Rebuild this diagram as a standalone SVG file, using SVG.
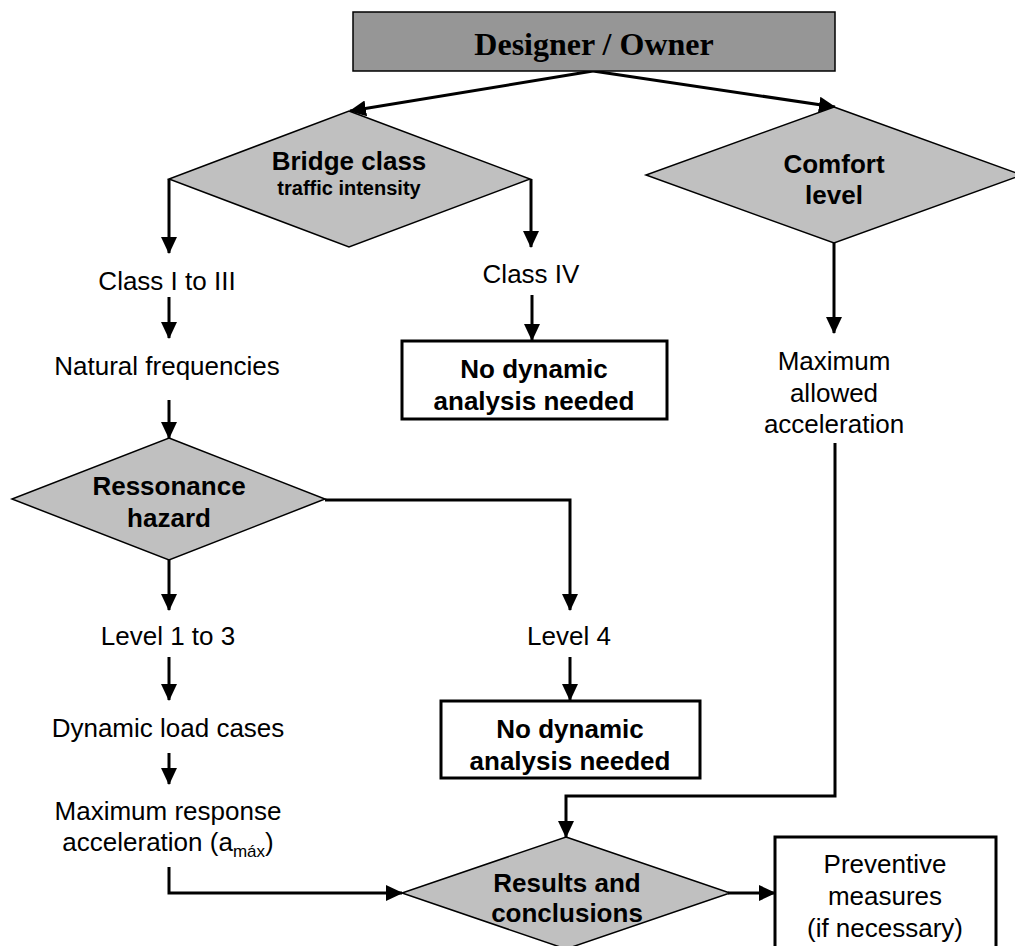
<svg xmlns="http://www.w3.org/2000/svg" width="1015" height="946" viewBox="0 0 1015 946">
<style>
.t{font-family:"Liberation Sans",Arial,sans-serif;font-size:26px;fill:#000;text-anchor:middle}
.b{font-weight:bold}
.dia{fill:#c0c0c0;stroke:#000;stroke-width:1.5}
.box{fill:#fff;stroke:#000;stroke-width:3}
.con{fill:none;stroke:#000;stroke-width:3;marker-end:url(#ah)}
</style>
<defs>
<marker id="ah" markerUnits="userSpaceOnUse" markerWidth="17" markerHeight="16" viewBox="0 0 17 16" refX="16" refY="8" orient="auto">
<path d="M0,0 L17,8 L0,16 z" fill="#000"/>
</marker>
</defs>
<rect width="1015" height="946" fill="#fff"/>
<g id="connectors">
<path class="con" d="M593,71 L350,111"/>
<path class="con" d="M593,71 L835,107"/>
<path class="con" d="M169,179 L169,253"/>
<path class="con" d="M531,179 L531,247"/>
<path class="con" d="M169,297 L169,338"/>
<path class="con" d="M169,400 L169,438"/>
<path class="con" d="M532,295 L532,340"/>
<path class="con" d="M834,243 L834,333"/>
<path class="con" d="M169,559 L169,610"/>
<path class="con" d="M325,500 L570,500 L570,610"/>
<path class="con" d="M169,657 L169,700"/>
<path class="con" d="M570,657 L570,700"/>
<path class="con" d="M169,753 L169,784"/>
<path class="con" d="M169,867 L169,893 L402,893"/>
<path class="con" d="M835,443 L835,796 L566,796 L566,837"/>
<path class="con" d="M728,893 L775,893"/>
</g>
<g id="designer">
<rect x="353" y="12" width="482" height="59" fill="#969696" stroke="#000" stroke-width="1.5"/>
<text x="594" y="55" style="font-family:'Liberation Serif','Times New Roman',serif;font-size:32px;font-weight:bold;text-anchor:middle">Designer / Owner</text>
</g>
<g id="bridge">
<polygon class="dia" points="349,111 530,179 349,247 169,179"/>
<text class="t b" x="349" y="170">Bridge class</text>
<text class="t b" x="349" y="195" style="font-size:20px">traffic intensity</text>
</g>
<g id="comfort">
<polygon class="dia" points="834,107 1022,175 834,243 646,175"/>
<text class="t b" x="834" y="173">Comfort</text>
<text class="t b" x="834" y="204">level</text>
</g>
<g id="class13"><text class="t" x="167" y="290">Class I to III</text></g>
<g id="class4"><text class="t" x="531" y="283">Class IV</text></g>
<g id="natfreq"><text class="t" x="167" y="375">Natural frequencies</text></g>
<g id="nodyn1">
<rect class="box" x="402" y="341" width="265" height="78"/>
<text class="t b" x="534" y="378">No dynamic</text>
<text class="t b" x="534" y="410">analysis needed</text>
</g>
<g id="maxallowed">
<text class="t" x="834" y="370">Maximum</text>
<text class="t" x="834" y="402">allowed</text>
<text class="t" x="834" y="433">acceleration</text>
</g>
<g id="ressonance">
<polygon class="dia" points="169,438 325,499 169,560 12,499"/>
<text class="t b" x="169" y="495">Ressonance</text>
<text class="t b" x="169" y="527">hazard</text>
</g>
<g id="level13"><text class="t" x="168" y="645">Level 1 to 3</text></g>
<g id="level4"><text class="t" x="569" y="645">Level 4</text></g>
<g id="dynload"><text class="t" x="168" y="737">Dynamic load cases</text></g>
<g id="nodyn2">
<rect class="box" x="441" y="701" width="259" height="77"/>
<text class="t b" x="570" y="738">No dynamic</text>
<text class="t b" x="570" y="770">analysis needed</text>
</g>
<g id="maxresp">
<text class="t" x="168" y="820">Maximum response</text>
<text class="t" x="168" y="851">acceleration (a<tspan dy="6" style="font-size:17px">máx</tspan><tspan dy="-6">)</tspan></text>
</g>
<g id="results">
<polygon class="dia" points="566,837 730,893 566,949 402,893"/>
<text class="t b" x="567" y="892">Results and</text>
<text class="t b" x="567" y="922">conclusions</text>
</g>
<g id="preventive">
<rect class="box" x="775" y="837" width="221" height="120"/>
<text class="t" x="885" y="873">Preventive</text>
<text class="t" x="885" y="905">measures</text>
<text class="t" x="885" y="937">(if necessary)</text>
</g>
</svg>
